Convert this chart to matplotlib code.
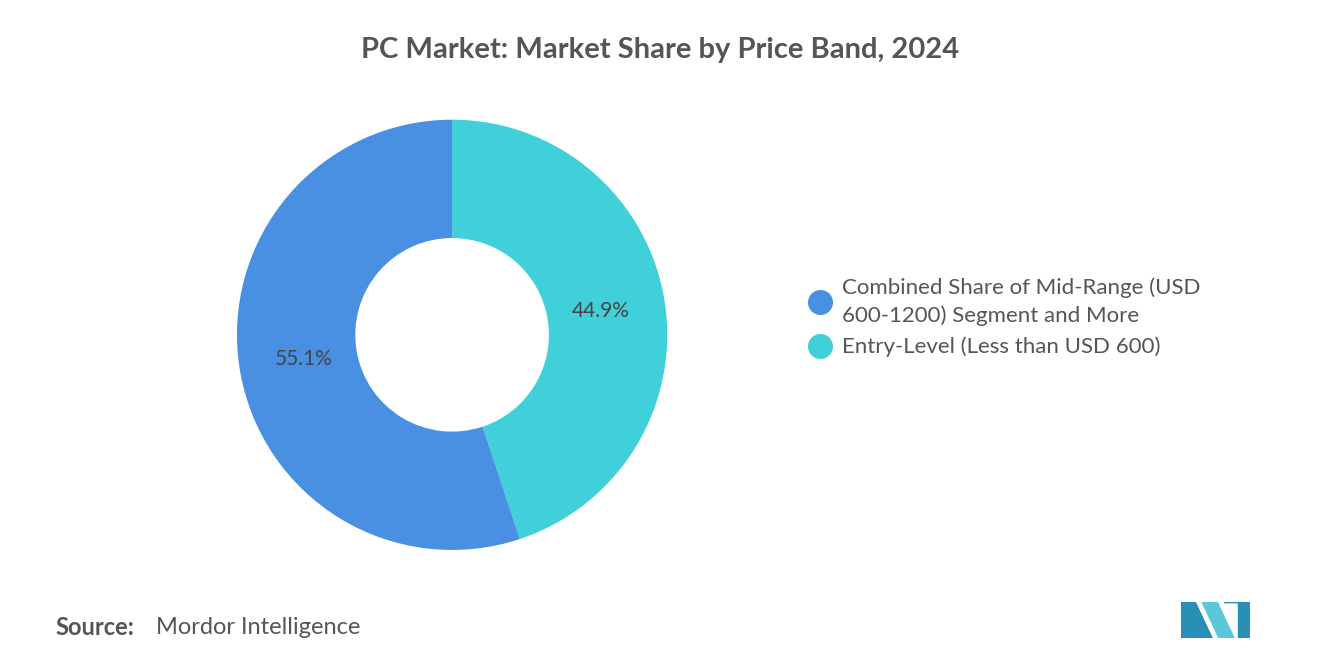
import matplotlib.pyplot as plt
from matplotlib.patches import Polygon
from matplotlib.lines import Line2D

labels = ["Combined Share of Mid-Range (USD\n600-1200) Segment and More",
          "Entry-Level (Less than USD 600)"]
values = [55.1, 44.9]
colors = ["#4a90e2", "#40d0da"]

plt.rcParams["font.family"] = "Lato"
fig = plt.figure(figsize=(13.2, 6.65), dpi=100)

ax = fig.add_axes([0.1795, 0.173, 0.326, 0.647])
# draw entry-level first so it starts at 12 o'clock going clockwise
wedges, texts, autotexts = ax.pie(values[::-1], colors=colors[::-1], startangle=90,
                                  counterclock=False, autopct="%.1f%%", pctdistance=0.7,
                                  wedgeprops=dict(width=0.55, edgecolor="none"),
                                  textprops=dict(fontsize=15, color="#444444"))
ax.set_xlim(-1, 1)
ax.set_ylim(-1, 1)
ax.set_aspect("equal")

handles = [Line2D([], [], marker="o", linestyle="", markersize=17, color=c) for c in colors]
fig.legend(handles, labels, loc="center left", bbox_to_anchor=(0.596, 0.523),
           frameon=False, fontsize=16, labelcolor="#555555", handletextpad=0.0,
           labelspacing=0.5, borderpad=0).get_texts()[0].set_linespacing(1.45)

fig.text(0.5, 0.925, "PC Market: Market Share by Price Band, 2024", ha="center",
         va="center", fontsize=21, fontweight="bold", color="#555555")
fig.text(0.042, 0.057, "Source:", fontsize=17, fontweight="bold", color="#555555", va="center")
fig.text(0.118, 0.057, "Mordor Intelligence", fontsize=17, color="#555555", va="center")

# simple logo
lax = fig.add_axes([0.895, 0.04, 0.052, 0.055])
lax.axis("off")
lax.set_xlim(0, 10); lax.set_ylim(0, 6)
lax.add_patch(Polygon([[0, 0], [0, 6], [2, 6], [4.5, 0]], color="#2a8fb5"))
lax.add_patch(Polygon([[3, 6], [5.2, 6], [7.7, 0], [5.5, 0]], color="#5ac8d8"))
lax.add_patch(Polygon([[6.2, 6], [8.2, 6], [8.2, 0], [8.8, 0], [10, 0], [10, 6]], color="#2a8fb5"))

fig.savefig("out.png", dpi=100, facecolor="white")
